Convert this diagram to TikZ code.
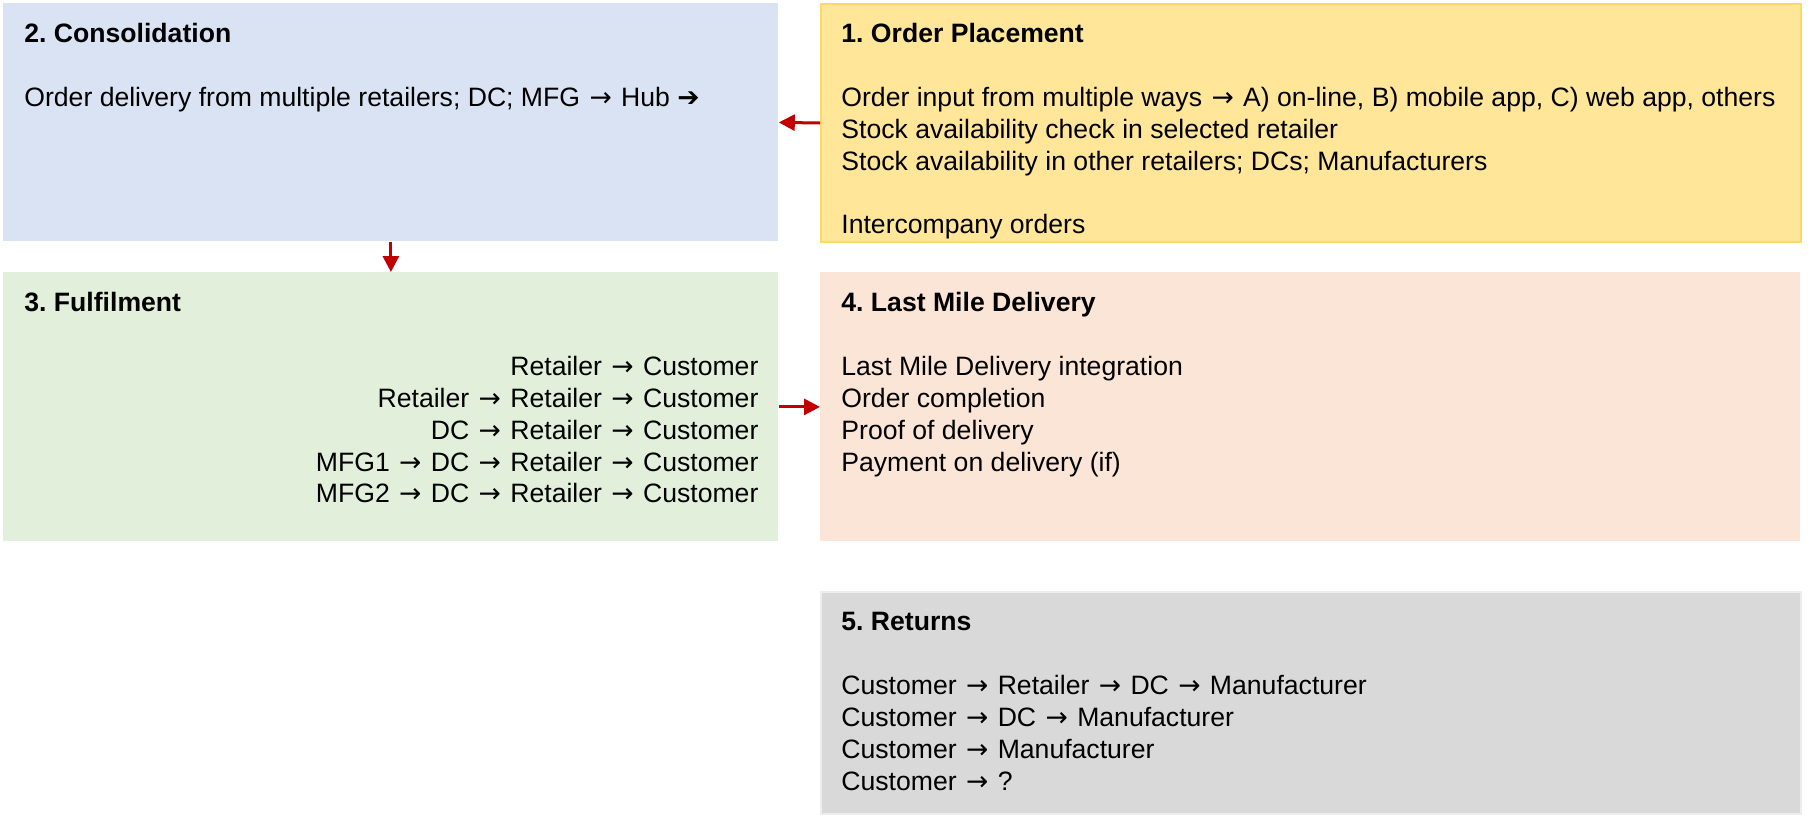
\documentclass[tikz,border=0pt]{standalone}
\usepackage{fontspec}
\setmainfont{Liberation Sans}
\newfontfamily\heavyarrowfont{DejaVu Sans}
\newcommand{\flowto}{\kern1pt{\heavyarrowfont →}\kern1pt}
\usetikzlibrary{positioning,arrows.meta,calc}
\definecolor{FlowBlue}{RGB}{218,227,243}
\definecolor{FlowYellow}{RGB}{255,230,153}
\definecolor{FlowYellowLine}{RGB}{255,217,102}
\definecolor{FlowGreen}{RGB}{226,239,218}
\definecolor{FlowPeach}{RGB}{251,229,214}
\definecolor{FlowGrey}{RGB}{217,217,217}
\definecolor{FlowGreyLine}{RGB}{237,237,237}
\definecolor{FlowRed}{RGB}{192,0,0}
\tikzset{
  flow box/.style={
    rectangle,
    draw=none,
    anchor=north west,
    inner sep=0pt,
    minimum width=#1
  },
  flow box/.default=490pt,
  flow title/.style={anchor=base west, inner sep=0pt, font=\fontsize{13.3pt}{15.9pt}\selectfont\bfseries},
  flow text/.style={inner sep=0pt, font=\fontsize{13.3pt}{15.9pt}\selectfont},
  flow arrow/.style={-{Triangle[length=8pt,width=8pt]}, line width=1.5pt, FlowRed}
}
\frenchspacing

\begin{document}
\begin{tikzpicture}[x=0.5pt,y=-0.5pt]
\useasboundingbox[fill=white] (0,0) rectangle (1818,815);

% the five stages
\node[flow box=387.5pt, minimum height=119pt, fill=FlowBlue] (cons) at (3,3) {};
\node[flow box=490pt, minimum height=119pt, fill=FlowYellow, draw=FlowYellowLine, line width=1pt] (order) at (820,3) {};
\node[flow box=387.5pt, minimum height=134.5pt, fill=FlowGreen] (fulfil) at (3,272) {};
\node[flow box=490pt, minimum height=134.5pt, fill=FlowPeach] (lastmile) at (820,272) {};
\node[flow box=490pt, minimum height=111pt, fill=FlowGrey, draw=FlowGreyLine, line width=1pt] (returns) at (820,591) {};

% headings
\node[flow title] (consT) at ($(cons.north west)+(21,39)$) {2. Consolidation};
\node[flow title] (orderT) at ($(order.north west)+(21,39)$) {1. Order Placement};
\node[flow title] (fulfilT) at ($(fulfil.north west)+(21,39)$) {3. Fulfilment};
\node[flow title] (lastmileT) at ($(lastmile.north west)+(21,39)$) {4. Last Mile Delivery};
\node[flow title] (returnsT) at ($(returns.north west)+(21,39)$) {5. Returns};

% contents
\node[flow text, anchor=north west, align=left] (consB) at ($(cons.north west)+(21,84)$)
  {Order delivery from multiple retailers; DC; MFG \flowto{} Hub {\heavyarrowfont\bfseries ➔}};
\node[flow text, anchor=north west, align=left] (orderB) at ($(order.north west)+(21,84)$)
  {Order input from multiple ways \flowto{} A) on-line, B) mobile app, C) web app, others\\
   Stock availability check in selected retailer\\
   Stock availability in other retailers; DCs; Manufacturers\\[15.9pt]
   Intercompany orders};
\node[flow text, anchor=north east, align=right] (fulfilB) at ($(fulfil.north east)+(-20,84)$)
  {Retailer \flowto{} Customer\\
   Retailer \flowto{} Retailer \flowto{} Customer\\
   DC \flowto{} Retailer \flowto{} Customer\\
   MFG1 \flowto{} DC \flowto{} Retailer \flowto{} Customer\\
   MFG2 \flowto{} DC \flowto{} Retailer \flowto{} Customer};
\node[flow text, anchor=north west, align=left] (lastmileB) at ($(lastmile.north west)+(21,84)$)
  {Last Mile Delivery integration\\
   Order completion\\
   Proof of delivery\\
   Payment on delivery (if)};
\node[flow text, anchor=north west, align=left] (returnsB) at ($(returns.north west)+(21,84)$)
  {Customer \flowto{} Retailer \flowto{} DC \flowto{} Manufacturer\\
   Customer \flowto{} DC \flowto{} Manufacturer\\
   Customer \flowto{} Manufacturer\\
   Customer \flowto{} ?};

% hand-offs between stages
\draw[flow arrow] (order.west) -- (cons.east);
\draw[flow arrow] (cons.south) -- (fulfil.north);
\draw[flow arrow] (fulfil.east) -- (lastmile.west);
\end{tikzpicture}
\end{document}
